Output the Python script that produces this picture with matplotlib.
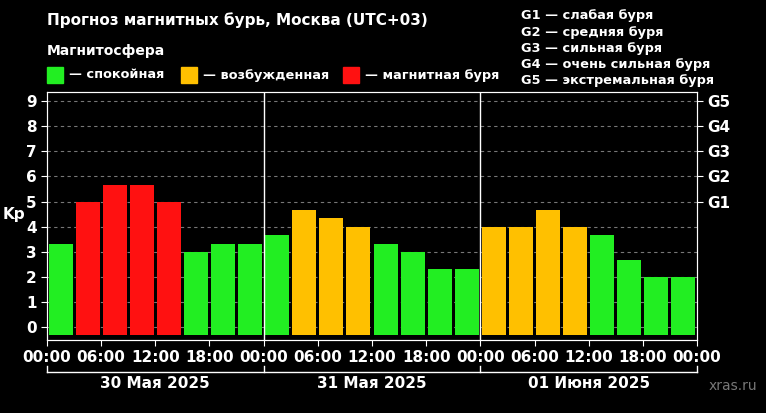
import matplotlib
matplotlib.use("Agg")
import matplotlib.pyplot as plt
import numpy as np

kp = [3.33, 5, 5.67, 5.67, 5, 3, 3.33, 3.33,
      3.67, 4.67, 4.33, 4, 3.33, 3, 2.33, 2.33,
      4, 4, 4.67, 4, 3.67, 2.67, 2, 2]
hours = list(range(0, 72, 3))
xticklabels = ["00:00", "06:00", "12:00", "18:00"] * 3 + ["00:00"]
days = ["30 Мая 2025", "31 Мая 2025", "01 Июня 2025"]
glabels = ["G1", "G2", "G3", "G4", "G5"]
legend_items = [("— спокойная", "#22ee22"), ("— возбужденная", "#ffc000"), ("— магнитная буря", "#ff1111")]
gtexts = ["G1 — слабая буря", "G2 — средняя буря", "G3 — сильная буря",
          "G4 — очень сильная буря", "G5 — экстремальная буря"]

def color(v):
    if v >= 5: return "#ff1111"
    if v >= 4: return "#ffc000"
    return "#22ee22"

W, H = 766, 413
fig = plt.figure(figsize=(W/100, H/100), dpi=100, facecolor="black")
ax = fig.add_axes([47/W, 1-340/H, 650/W, 248/H], facecolor="black")
ax.set_xlim(0, 72)
ax.set_ylim(-0.5, 9.35)
bottom = -0.3
ax.bar([h + 1.5 for h in hours], [v - bottom for v in kp], bottom=bottom, width=2.65,
       color=[color(v) for v in kp], zorder=3)
for y in range(10):
    ax.axhline(y, color="#777777", lw=0.8, ls=(0, (3, 3)), zorder=1)
for x in (24, 48):
    ax.axvline(x, color="white", lw=1, zorder=4)
for s in ax.spines.values():
    s.set_color("white")
ax.set_yticks(range(10))
ax.set_yticklabels([str(i) for i in range(10)], color="white", fontsize=11, fontweight="bold")
ax.set_xticks(range(0, 73, 6))
ax.set_xticklabels(xticklabels, color="white", fontsize=11, fontweight="bold")
ax.tick_params(colors="white", length=4)
fig.text(14/W, 1-214/H, "Kp", color="white", fontsize=11, fontweight="bold", ha="center", va="center")
ax2 = ax.twinx()
ax2.set_ylim(ax.get_ylim())
ax2.set_yticks([5, 6, 7, 8, 9])
ax2.set_yticklabels(glabels, color="white", fontsize=11, fontweight="bold")
ax2.tick_params(colors="white", length=4)
for s in ax2.spines.values():
    s.set_color("white")

for i, d in enumerate(days):
    fig.text((47 + 216.7*(i+0.5))/W, 1-384/H, d, color="white", fontsize=11,
             fontweight="bold", ha="center", va="center")
fig.add_artist(plt.Line2D([47/W, 697/W], [1-372/H]*2, color="white", lw=1))
for x in (47, 263.7, 480.3, 697):
    fig.add_artist(plt.Line2D([x/W]*2, [1-372/H, 1-366/H], color="white", lw=1))

fig.text(47/W, 1-20/H, "Прогноз магнитных бурь, Москва (UTC+03)", color="white",
         fontsize=11, fontweight="bold", va="center")
fig.text(47/W, 1-51/H, "Магнитосфера", color="white", fontsize=10, fontweight="bold", va="center")
xs = [47, 181, 343]
for (lab, c), x in zip(legend_items, xs):
    fig.add_artist(plt.Rectangle((x/W, 1-83/H), 16/W, 16/H, color=c))
    fig.text((x+22)/W, 1-75/H, lab, color="white", fontsize=9.3, fontweight="bold", va="center")
for i, t in enumerate(gtexts):
    fig.text(521/W, 1-(16+16.2*i)/H, t, color="white", fontsize=9.3, fontweight="bold", va="center")
fig.text(757/W, 1-386/H, "xras.ru", color="#777777", fontsize=10, ha="right", va="center")
fig.savefig("out.png", dpi=100, facecolor="black")
